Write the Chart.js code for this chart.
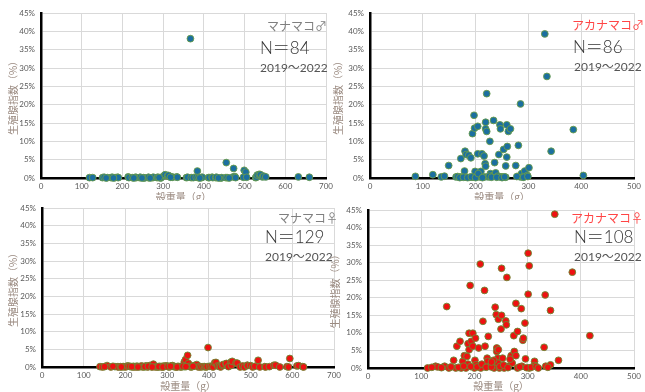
<!DOCTYPE html>
<html>
<head>
<meta charset="utf-8">
<script src="https://cdn.jsdelivr.net/npm/chart.js@4/dist/chart.umd.min.js"></script>
<style>
  body { margin: 0; background: #fff; width: 645px; height: 392px; position: relative; overflow: hidden; }
  canvas { position: absolute; }
</style>
</head>
<body>
<canvas id="c1" width="337" height="200" style="left:0;top:0"></canvas>
<canvas id="c2" width="325" height="200" style="left:320px;top:0"></canvas>
<canvas id="c3" width="345" height="197" style="left:0;top:195px"></canvas>
<canvas id="c4" width="325" height="197" style="left:320px;top:195px"></canvas>
<script>
// マナマコ♂ (shell weight g, gonad index %)
const manaMaleX = [119,127,151,155,163,172,175,182,188,190,214,216,224,232,234,242,244,252,254,263,
  264,274,276,285,287,294,296,303,305,311,313,321,323,333,335,357,360,367,369,374,
  381,384,386,394,396,411,413,420,422,429,431,442,444,454,455,457,472,473,476,478,
  497,499,503,505,527,529,531,536,539,544,547,552,632,659,160,178,228,248,268,290,
  318,390,436,462];
const manaMaleY = [0.1,0.1,0.1,0.2,0.1,0.1,0.2,0.1,0.2,0.1,0.3,0.1,0.1,0.2,0.1,0.1,0.2,0.1,0,0.1,
  0.2,0.1,0.2,0.1,0.2,0,0.2,0.7,0.9,0.6,0.7,0.3,0.2,0.3,0.2,0.1,0.2,38,0.1,0.1,
  0.2,1.9,0.1,0.1,0.2,0.1,0.1,0.2,0.1,0.1,0.2,0,0.1,0.1,4.2,0.1,0.3,2.6,0.4,0.1,
  0.2,2.1,1.6,0.2,0.1,0.2,0.8,1.0,0.9,0.3,0.5,0.3,0.3,0.2,0,0,0,0,0,0.1,
  0.2,0,0,0];

// アカナマコ♂
const akaMaleX = [86,119,135,141,149,163,166,172,172,179,180,182,187,191,182,189,195,194,197,198,
  199,204,204,202,207,210,212,216,217,219,219,221,221,218,219,224,227,228,233,234,
  236,238,242,244,246,247,247,251,253,257,257,259,260,259,262,266,276,281,282,285,
  285,287,289,293,298,301,331,335,343,385,404,170,177,185,192,200,205,213,226,230,
  240,250,255,278,291,299];
const akaMaleY = [0.45,0.9,0.3,0.5,3.4,0.3,0.4,5.3,0.3,1.9,7.3,6.4,6.2,5.5,0.2,0.2,0.2,12.1,17.1,13.6,
  1.8,14.1,6.6,0.4,0.3,1.8,6.6,6.0,0.3,15.2,13.4,12.7,23.0,3.9,3.2,0.3,10.0,1.2,0.7,15.7,
  4.2,1.4,0.5,6.4,14.5,13.4,0.3,0.3,7.8,0.2,3.3,5.7,8.6,14.5,12.7,13.4,3.4,8.9,0.5,20.2,
  0.3,1.2,0.3,1.9,0.7,2.8,39.3,27.7,7.3,13.2,0.7,0.1,0.2,0.1,0.3,0.1,1.2,0.1,0.5,0.2,
  0.2,0.1,0.3,0.4,0.2,0.4];

// マナマコ♀
const manaFemaleX = [139,145,156,165,175,182,183,188,194,196,200,205,206,212,218,219,224,226,229,233,
  236,239,242,245,249,250,253,257,258,262,266,267,272,276,278,282,286,288,292,294,
  297,300,305,310,313,316,319,321,326,331,333,336,341,341,344,349,351,354,357,360,
  365,366,371,375,378,381,386,390,393,396,398,402,406,410,414,417,421,425,428,433,
  434,441,442,447,453,454,456,465,468,475,481,485,492,493,500,505,510,518,522,534,
  536,545,556,560,570,587,591,594,611,615,625,627,150,170,190,210,215,230,247,255,
  264,280,290,302,308,324,338,345,362];
const manaFemaleY = [0.1,0,0.4,0,0.1,0.1,0,0.1,0.1,0.1,0,0.3,0.2,0.1,0,0.2,0,0.2,0.2,0.1,
  0.1,0.3,0,0.1,0.2,0.3,0,0.2,0.4,0.1,0.6,0.8,0,0.1,0,0.2,0,0.2,0.1,0.3,
  0.2,0.3,0,0.3,0.4,0.1,0.1,0,0.2,0.1,0,0.1,0.1,1.4,2.1,3.3,1.0,0.2,0,0.1,
  0.4,0.3,0.7,0,0.2,0,0.1,0.1,0,0.1,5.5,0.2,0.2,0,1.2,1.3,0.3,0.2,0,0.4,
  0.7,0.9,1.0,0.1,1.4,0.5,1.6,1.1,1.1,0,0.3,0,0.5,0.4,0.4,0,0.2,1.9,0,0.1,
  0,0.1,0.5,0.5,0,0.1,0,2.4,0.3,0.4,0.1,0,0.1,0.2,0,0.2,0.1,0,0.1,0.2,
  0,0.1,0,0.1,0.2,0,0.2,0.1,0.2];

// アカナマコ♀
const akaFemaleX = [112,127,131,144,148,152,161,165,167,173,175,178,181,184,186,188,188,190,190,192,
  194,197,197,200,201,202,203,208,211,212,216,219,220,224,225,226,229,234,237,239,
  241,242,242,244,245,244,247,250,251,251,253,256,259,260,261,264,269,271,274,275,
  278,278,281,281,288,289,291,292,295,296,301,303,303,301,313,313,331,333,334,343,
  343,351,358,384,417,120,138,156,170,180,193,205,214,222,232,236,248,255,263,267,
  285,298,307,316,320,338,245,232];
const akaFemaleY = [0,0.5,0.3,0.5,17.5,0,2.2,0,6.2,7.6,0,1.9,3.5,0,3.3,1.1,6.9,5.2,9.9,23.5,
  7.6,9.9,6.2,0,2.2,8.5,0.9,5.7,29.6,0,13.3,22.1,6.2,2.8,1.9,9.0,0.5,0.9,0,17.3,
  15.2,5.7,4.7,2.8,13.9,1.4,0,11.1,15.0,28.4,2.8,0,13.4,12.3,25.8,0.5,3.5,1.4,9.2,4.7,
  18.4,3.5,10.4,0,16.9,0.5,7.9,8.5,12.8,2.6,32.7,29.1,0,21.0,1.9,0.7,5.9,20.8,0.5,16.4,
  0.9,43.8,2.2,27.3,9.2,0.2,0.1,0.3,0.2,0.5,0.4,0.3,1.1,0.2,0.3,2.2,0.4,0.8,0.1,2.5,
  0.3,0.1,0.2,0.4,0,0.2,5.2,1.7];

const yTicks = [0, 5, 10, 15, 20, 25, 30, 35, 40, 45];

const MALE = { fill: '#1b6fa0', edge: '#6a9c48' };
const FEMALE = { fill: '#ee1111', edge: '#6a8c34' };
const RED_TEXT = '#ff4545';

function toPoints(xs, ys) {
  return xs.map((x, i) => ({ x: x, y: ys[i] }));
}

function makeChart(id, xs, ys, colors, cfg) {
  const textPlugin = {
    id: 'panelText',
    afterDraw(chart) {
      const ctx = chart.ctx;
      ctx.save();
      ctx.textBaseline = 'middle';
      cfg.texts.forEach(t => {
        ctx.font = t.font;
        ctx.fillStyle = t.color;
        ctx.fillText(t.text, t.x, t.y);
      });
      ctx.restore();
    }
  };

  return new Chart(document.getElementById(id), {
    type: 'scatter',
    data: {
      datasets: [{
        data: toPoints(xs, ys),
        backgroundColor: colors.fill,
        borderColor: colors.edge,
        borderWidth: 0.9,
        pointRadius: 3.4,
        clip: false,
      }],
    },
    options: {
      responsive: false,
      animation: false,
      layout: { padding: { top: cfg.top, right: cfg.right, left: 0, bottom: 0 } },
      plugins: { legend: { display: false }, tooltip: { enabled: false } },
      scales: {
        x: {
          type: 'linear',
          min: 0,
          max: cfg.xmax,
          afterFit: s => { s.height = cfg.xHeight; },
          ticks: { stepSize: 100, padding: 4, color: '#595959', font: { family: 'Lato', size: 8 } },
          grid: { color: '#d9d9d9', drawTicks: false },
          border: { color: '#000', width: 2.5 },
          title: {
            display: true,
            text: '殻重量（g）',
            color: '#9a8a80',
            font: { family: 'Noto Sans CJK JP', size: 10 },
            padding: { top: 0, bottom: cfg.xTitlePad },
          },
        },
        y: {
          min: 0,
          max: 45,
          afterFit: s => { s.width = cfg.yWidth; },
          afterBuildTicks: s => { s.ticks = yTicks.map(v => ({ value: v })); },
          ticks: {
            padding: 6,
            color: '#595959',
            font: { family: 'Lato', size: 8 },
            callback: v => v + '%',
          },
          grid: { color: '#d9d9d9', drawTicks: false },
          border: { color: '#000', width: 2.5 },
          title: {
            display: true,
            text: '生殖腺指数（%）',
            color: '#9a8a80',
            font: { family: 'Noto Sans CJK JP', size: 10 },
            padding: { top: cfg.yTitlePad, bottom: 0 },
          },
        },
      },
    },
    plugins: [textPlugin],
  });
}

const spFont = "12px 'Noto Sans CJK JP'";
const nFont = "300 17px Lato, 'Noto Sans CJK JP'";
const yrFont = "12px Lato, 'Noto Sans CJK JP'";
const N_COLOR = '#333';
const YR_COLOR = '#555';

makeChart('c1', manaMaleX, manaMaleY, MALE, {
  xmax: 700, top: 13, right: 9, yWidth: 41, xHeight: 22, yTitlePad: 7, xTitlePad: -3,
  texts: [
    { text: 'マナマコ♂', x: 267, y: 26, font: spFont, color: '#7f7f7f' },
    { text: 'N＝84', x: 260, y: 49, font: nFont, color: N_COLOR },
    { text: '2019～2022', x: 260, y: 68, font: yrFont, color: YR_COLOR },
  ],
});

makeChart('c2', akaMaleX, akaMaleY, MALE, {
  xmax: 500, top: 13, right: 9, yWidth: 50, xHeight: 22, yTitlePad: 12, xTitlePad: -3,
  texts: [
    { text: 'アカナマコ♂', x: 252, y: 25, font: spFont, color: RED_TEXT },
    { text: 'N＝86', x: 253, y: 48, font: nFont, color: N_COLOR },
    { text: '2019～2022', x: 254, y: 67, font: yrFont, color: YR_COLOR },
  ],
});

makeChart('c3', manaFemaleX, manaFemaleY, FEMALE, {
  xmax: 700, top: 13, right: 9, yWidth: 42, xHeight: 25, yTitlePad: 7, xTitlePad: 0,
  texts: [
    { text: 'マナマコ♀', x: 278, y: 23, font: spFont, color: '#7f7f7f' },
    { text: 'N＝129', x: 265, y: 43, font: nFont, color: N_COLOR },
    { text: '2019～2022', x: 265, y: 62, font: yrFont, color: YR_COLOR },
  ],
});

makeChart('c4', akaFemaleX, akaFemaleY, FEMALE, {
  xmax: 500, top: 15, right: 10, yWidth: 48, xHeight: 24, yTitlePad: 9, xTitlePad: 0,
  texts: [
    { text: 'アカナマコ♀', x: 251, y: 23, font: spFont, color: RED_TEXT },
    { text: 'N＝108', x: 254, y: 43, font: nFont, color: N_COLOR },
    { text: '2019～2022', x: 254, y: 62, font: yrFont, color: YR_COLOR },
  ],
});
</script>
</body>
</html>
